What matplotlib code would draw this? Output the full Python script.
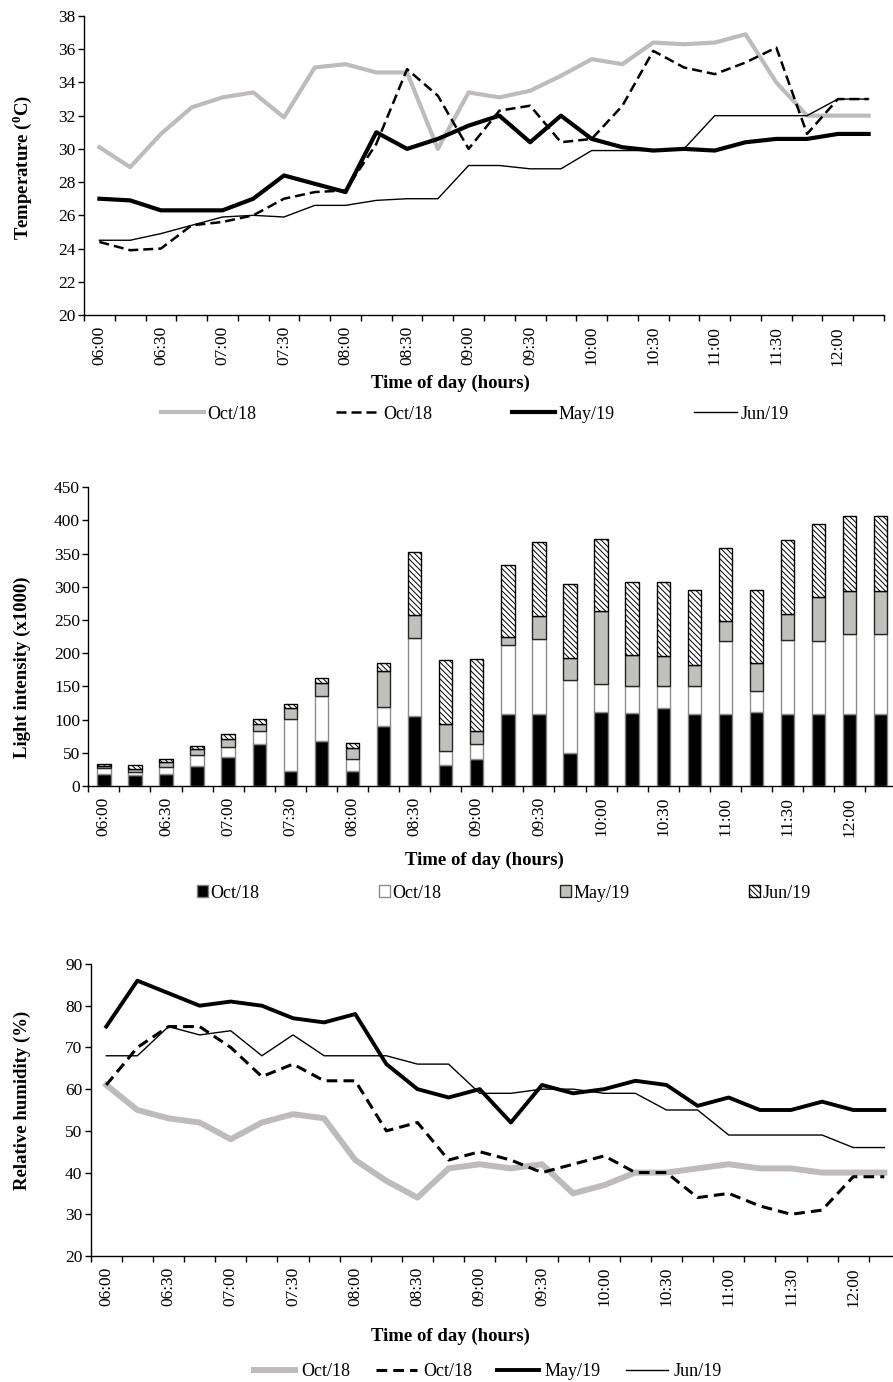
import matplotlib
matplotlib.use("Agg")
import matplotlib.pyplot as plt
import numpy as np

# ── style ──
plt.rcParams["font.family"] = ["Liberation Serif", "DejaVu Serif"]
plt.rcParams["mathtext.fontset"] = "custom"
plt.rcParams["mathtext.rm"] = "Liberation Serif"
plt.rcParams["mathtext.bf"] = "Liberation Serif:bold"
plt.rcParams["hatch.linewidth"] = 0.7

GRAY_LINE = "#bfbbbb"
GRAY_BAR = "#c0c1bc"
FS_TICK = 12.5
FS_LABEL = 13.5
FS_LEG = 13

# ── data ──
times = ["06:00", "06:15", "06:30", "06:45", "07:00", "07:15", "07:30", "07:45",
         "08:00", "08:15", "08:30", "08:45", "09:00", "09:15", "09:30", "09:45",
         "10:00", "10:15", "10:30", "10:45", "11:00", "11:15", "11:30", "11:45",
         "12:00", "12:15"]
series_labels = ["Oct/18", "Oct/18", "May/19", "Jun/19"]

temp_oct18a = [30.1, 28.9, 30.9, 32.5, 33.1, 33.4, 31.9, 34.9, 35.1, 34.6, 34.6, 30.0, 33.4,
               33.1, 33.5, 34.4, 35.4, 35.1, 36.4, 36.3, 36.4, 36.9, 34.0, 32.0, 32.0, 32.0]
temp_oct18b = [24.4, 23.9, 24.0, 25.4, 25.6, 26.0, 27.0, 27.4, 27.5, 30.3, 34.8, 33.2, 30.0,
               32.3, 32.6, 30.4, 30.6, 32.6, 35.9, 34.9, 34.5, 35.2, 36.1, 30.9, 33.0, 33.0]
temp_may19 = [27.0, 26.9, 26.3, 26.3, 26.3, 27.0, 28.4, 27.9, 27.4, 31.0, 30.0, 30.6, 31.4,
              32.0, 30.4, 32.0, 30.6, 30.1, 29.9, 30.0, 29.9, 30.4, 30.6, 30.6, 30.9, 30.9]
temp_jun19 = [24.5, 24.5, 24.9, 25.4, 25.9, 26.0, 25.9, 26.6, 26.6, 26.9, 27.0, 27.0, 29.0,
              29.0, 28.8, 28.8, 29.9, 29.9, 29.9, 30.0, 32.0, 32.0, 32.0, 32.0, 33.0, 33.0]

light_oct18a = [18, 16, 18, 30, 44, 64, 23, 68, 22, 91, 106, 31, 41,
                109, 109, 49, 111, 110, 118, 109, 109, 112, 109, 109, 109, 109]
light_oct18b = [9, 5, 11, 16, 15, 19, 78, 67, 19, 28, 117, 22, 22,
                103, 112, 110, 42, 41, 33, 41, 110, 31, 111, 109, 120, 120]
light_may19 = [3, 5, 7, 9, 12, 10, 16, 20, 16, 55, 34, 41, 20,
               13, 35, 34, 111, 47, 45, 32, 29, 43, 39, 66, 65, 65]
light_jun19 = [3, 5, 4, 6, 8, 8, 6, 8, 8, 12, 95, 96, 108,
               108, 112, 111, 108, 109, 112, 113, 111, 110, 111, 110, 113, 113]

rh_oct18a = [61, 55, 53, 52, 48, 52, 54, 53, 43, 38, 34, 41, 42,
             41, 42, 35, 37, 40, 40, 41, 42, 41, 41, 40, 40, 40]
rh_oct18b = [61, 70, 75, 75, 70, 63, 66, 62, 62, 50, 52, 43, 45,
             43, 40, 42, 44, 40, 40, 34, 35, 32, 30, 31, 39, 39]
rh_may19 = [75, 86, 83, 80, 81, 80, 77, 76, 78, 66, 60, 58, 60,
            52, 61, 59, 60, 62, 61, 56, 58, 55, 55, 57, 55, 55]
rh_jun19 = [68, 68, 75, 73, 74, 68, 73, 68, 68, 68, 66, 66, 59,
            59, 60, 60, 59, 59, 55, 55, 49, 49, 49, 49, 46, 46]

x = np.arange(len(times))
W, H = 893, 1382


def _axes(px_left, px_top, px_right, px_bottom):
    return fig.add_axes([px_left / W, 1 - px_bottom / H,
                         (px_right - px_left) / W, (px_bottom - px_top) / H])


def _style(ax, ylim, ystep):
    for s in ("top", "right"):
        ax.spines[s].set_visible(False)
    for s in ("left", "bottom"):
        ax.spines[s].set_linewidth(1.0)
        ax.spines[s].set_color("black")
    ax.set_xlim(-0.5, len(times) - 0.5)
    ax.set_ylim(*ylim)
    ax.set_yticks(np.arange(ylim[0], ylim[1] + ystep / 2, ystep))
    ax.set_xticks(x[::2])
    ax.set_xticklabels(times[::2], rotation=90, fontsize=FS_TICK)
    ax.set_xticks(np.arange(-0.5, len(times)), minor=True)
    ax.tick_params(axis="x", which="major", length=0, pad=8)
    ax.tick_params(axis="x", which="minor", length=4, width=1, direction="out")
    ax.tick_params(axis="y", length=4, width=1, direction="out", pad=2,
                   labelsize=FS_TICK)


def _xlabel(px_x, px_y):
    fig.text(px_x / W, 1 - px_y / H, "Time of day (hours)", fontsize=FS_LABEL,
             fontweight="bold", ha="center", va="center")


def _ylabel(px_y, text):
    fig.text(22 / W, 1 - px_y / H, text, fontsize=FS_LABEL, fontweight="bold",
             ha="center", va="center", rotation=90)


fig = plt.figure(figsize=(W / 100, H / 100), dpi=100)
fig.patch.set_facecolor("white")

# ── panel 1: temperature ──
ax1 = _axes(84, 16, 884, 315)
_style(ax1, (20, 38), 2)
ax1.plot(x, temp_oct18a, color=GRAY_LINE, lw=3.0, label=series_labels[0])
ax1.plot(x, temp_oct18b, color="black", lw=1.8, dashes=(4, 2), label=series_labels[1])
ax1.plot(x, temp_may19, color="black", lw=3.0, label=series_labels[2])
ax1.plot(x, temp_jun19, color="black", lw=1.0, label=series_labels[3])
_xlabel(450, 383)
_ylabel(167, r"Temperature ($^{\mathbf{0}}$C)")
h, l = ax1.get_legend_handles_labels()
fig.legend(h, l, loc="center", bbox_to_anchor=(475 / W, 1 - 414 / H), ncol=4,
           frameon=False, fontsize=FS_LEG, handlelength=2.4, handletextpad=0.2,
           columnspacing=4.4)

# ── panel 2: light intensity ──
ax2 = _axes(88.3, 487.3, 896.3, 786)
_style(ax2, (0, 450), 50)
bw = 0.43
b0 = np.zeros(len(times))
bar_specs = [
    (light_oct18a, "black", "#7f7f7f", None),
    (light_oct18b, "white", "#8c8c8c", None),
    (light_may19, GRAY_BAR, "#262626", None),
    (light_jun19, "white", "black", "\\" * 6),
]
for (vals, fc, ec, hatch), lab in zip(bar_specs, series_labels):
    ax2.bar(x, vals, bw, bottom=b0, color=fc, edgecolor=ec, linewidth=1.0,
            hatch=hatch, label=lab, zorder=3)
    b0 = b0 + np.array(vals)
_xlabel(484, 860)
_ylabel(667, "Light intensity (x1000)")
h, l = ax2.get_legend_handles_labels()
fig.legend(h, l, loc="center", bbox_to_anchor=(504 / W, 1 - 893 / H), ncol=4,
           frameon=False, fontsize=FS_LEG, handlelength=0.6, handleheight=0.6,
           handletextpad=0.15, columnspacing=6.6)

# ── panel 3: relative humidity ──
ax3 = _axes(90.7, 964, 899.9, 1256)
_style(ax3, (20, 90), 10)
ax3.plot(x, rh_oct18a, color=GRAY_LINE, lw=4.3, label=series_labels[0])
ax3.plot(x, rh_oct18b, color="black", lw=2.2, dashes=(3.5, 2), label=series_labels[1])
ax3.plot(x, rh_may19, color="black", lw=2.8, label=series_labels[2])
ax3.plot(x, rh_jun19, color="black", lw=1.0, label=series_labels[3])
_xlabel(450, 1336)
_ylabel(1100, "Relative humidity (%)")
h, l = ax3.get_legend_handles_labels()
fig.legend(h, l, loc="center", bbox_to_anchor=(488 / W, 1 - 1372 / H), ncol=4,
           frameon=False, fontsize=FS_LEG, handlelength=2.3, handletextpad=0.33,
           columnspacing=1.4)

fig.savefig("out.png", dpi=100, facecolor="white")
